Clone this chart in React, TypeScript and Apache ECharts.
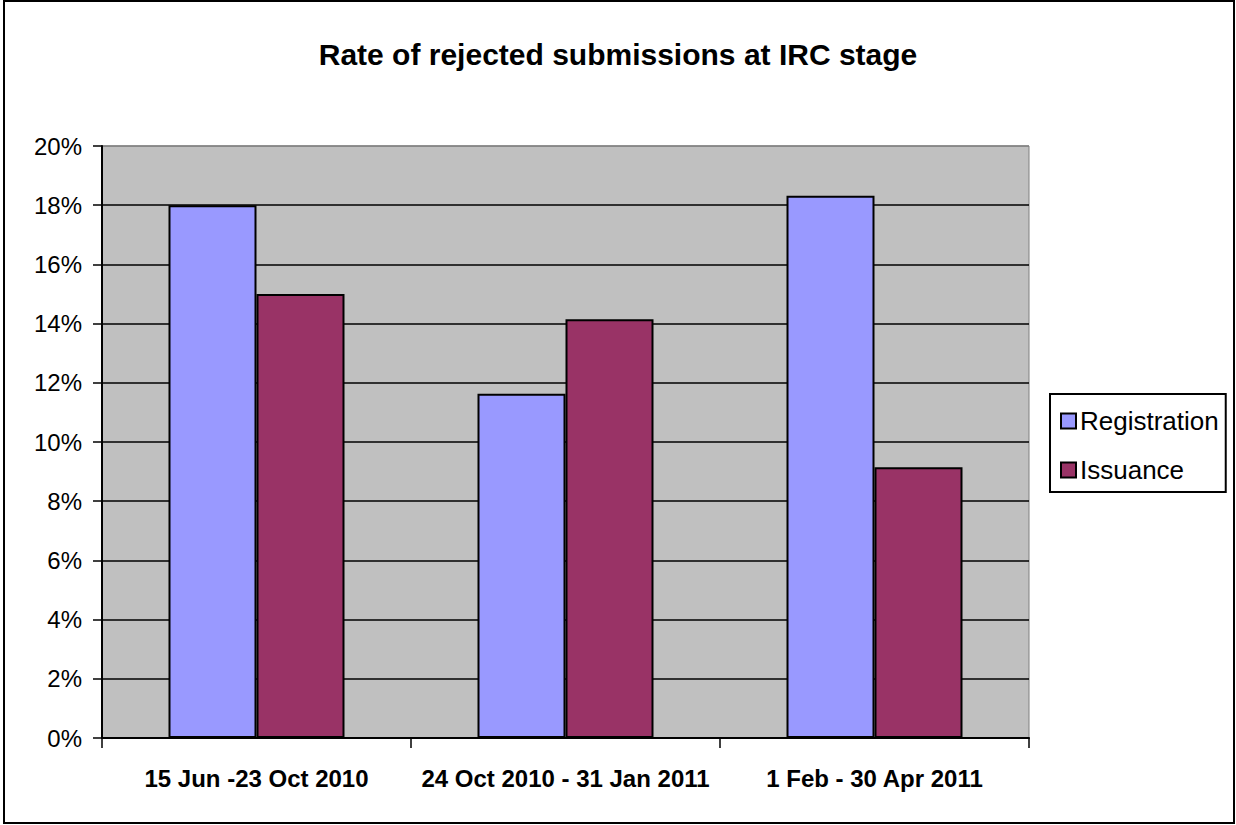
import React, { useEffect, useRef } from "react";
import * as echarts from "echarts";

const titleText = "Rate of rejected submissions at IRC stage";
const categories = ["15 Jun -23 Oct 2010", "24 Oct 2010 - 31 Jan 2011", "1 Feb - 30 Apr 2011"];
const registration = [18.0, 11.63, 18.32];
const issuance = [15.0, 14.15, 9.15];
const seriesNames = ["Registration", "Issuance"];
const seriesColors = ["#9999FF", "#993366"];

const FONT = "'Liberation Sans', Arial, sans-serif";

export default function App() {
  const ref = useRef<HTMLDivElement>(null);
  useEffect(() => {
    if (!ref.current) return;
    const chart = echarts.init(ref.current, undefined, { renderer: "svg" });
    const splitColors = Array.from({ length: 11 }, (_, i) => (i === 10 ? "#808080" : "#000000"));
    chart.setOption({
      animation: false,
      backgroundColor: "#ffffff",
      textStyle: { fontFamily: FONT },
      title: {
        text: titleText,
        left: "center",
        top: 34,
        textStyle: { fontFamily: FONT, fontSize: 30, fontWeight: "bold", color: "#000" },
      },
      graphic: [
        {
          type: "rect",
          shape: { x: 4, y: 1, width: 1230, height: 822 },
          style: { fill: "none", stroke: "#000", lineWidth: 2 },
          silent: true,
        },
      ],
      legend: {
        orient: "vertical",
        left: 1050,
        top: 394,
        padding: [14, 7, 9, 10],
        itemGap: 23,
        itemWidth: 15,
        itemHeight: 15,
        borderColor: "#000",
        borderWidth: 2,
        icon: "rect",
        data: seriesNames,
        textStyle: { fontFamily: FONT, fontSize: 26, color: "#000", lineHeight: 24, padding: [0, 0, 0, -1] },
      },
      grid: {
        left: 102,
        right: 207,
        top: 146,
        bottom: 87,
        show: true,
        backgroundColor: "#C0C0C0",
        borderColor: "#808080",
        borderWidth: 1,
      },
      xAxis: {
        type: "category",
        data: categories,
        axisLine: { show: true, lineStyle: { color: "#000", width: 2 } },
        axisTick: { show: true, length: 10, alignWithLabel: false, lineStyle: { color: "#000", width: 1.5 } },
        axisLabel: { interval: 0, margin: 28, fontFamily: FONT, fontSize: 24, fontWeight: "bold", color: "#000" },
      },
      yAxis: {
        type: "value",
        min: 0,
        max: 20,
        interval: 2,
        axisLine: { show: true, lineStyle: { color: "#000", width: 2 } },
        axisTick: { show: true, length: 9, lineStyle: { color: "#000", width: 1.5 } },
        axisLabel: { margin: 20, fontFamily: FONT, fontSize: 24, color: "#000", formatter: "{value}%" },
        splitLine: { show: true, lineStyle: { color: splitColors, width: 1.5 } },
      },
      series: [
        {
          name: seriesNames[0],
          type: "bar",
          data: registration,
          barWidth: 88,
          barGap: "0%",
          itemStyle: { color: seriesColors[0], borderColor: "#000", borderWidth: 2 },
        },
        {
          name: seriesNames[1],
          type: "bar",
          data: issuance,
          barWidth: 88,
          barGap: "0%",
          itemStyle: { color: seriesColors[1], borderColor: "#000", borderWidth: 2 },
        },
      ],
    });
    return () => chart.dispose();
  }, []);
  return (
    <div
      ref={ref}
      style={{ position: "fixed", left: 0, top: 0, width: 1236, height: 825 }}
    />
  );
}
